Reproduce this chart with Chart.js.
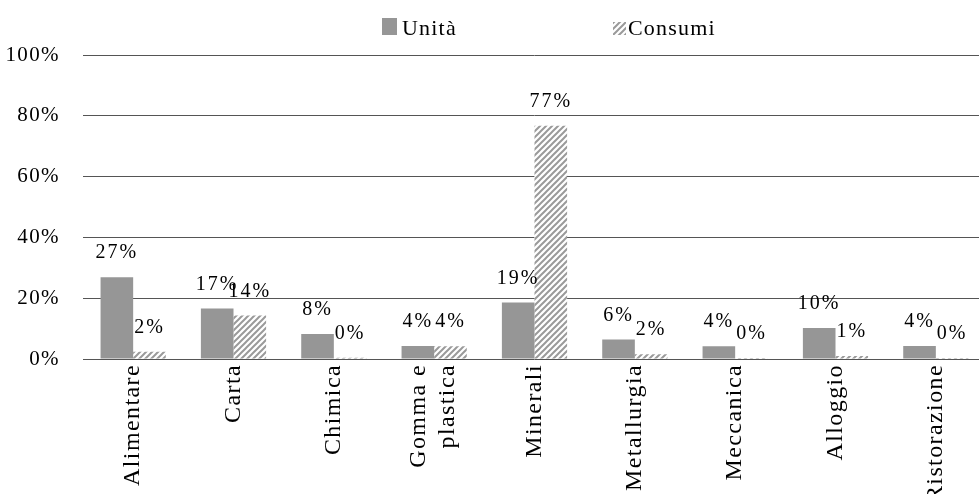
<!DOCTYPE html>
<html>
<head>
<meta charset="utf-8">
<script src="https://cdn.jsdelivr.net/npm/chart.js@4"></script>
<style>
  html, body { margin: 0; padding: 0; background: #fff; overflow: hidden; }
  #chart { display: block; }
</style>
</head>
<body>
<canvas id="chart" width="987" height="494"></canvas>
<script>
// data
const categories = ['Alimentare', 'Carta', 'Chimica', ['Gomma e', 'plastica'], 'Minerali',
  'Metallurgia', 'Meccanica', 'Alloggio', 'Ristorazione'];
const unita = [26.9, 16.6, 8.2, 4.3, 18.6, 6.4, 4.2, 10.2, 4.3];
const consumi = [2.4, 14.3, 0.4, 4.2, 76.7, 1.6, 0.3, 1.0, 0.3];
const yTicks = [0, 20, 40, 60, 80, 100];

const FONT = '"Liberation Serif", "Times New Roman", serif';
const solidGray = '#969696';

function makeHatch() {
  const s = 6;
  const c = document.createElement('canvas');
  c.width = s; c.height = s;
  const g = c.getContext('2d');
  g.fillStyle = '#fff';
  g.fillRect(0, 0, s, s);
  g.strokeStyle = '#9a9a9a';
  g.lineWidth = 2;
  g.beginPath();
  g.moveTo(0, s); g.lineTo(s, 0);
  g.moveTo(-1, 1); g.lineTo(1, -1);
  g.moveTo(s - 1, s + 1); g.lineTo(s + 1, s - 1);
  g.stroke();
  return g.createPattern(c, 'repeat');
}
const hatch = makeHatch();

// letter spacing for chart text, and centre the two-line label on its tick
const spacing = {
  id: 'spacing',
  beforeDraw(chart) {
    chart.ctx.letterSpacing = '1.4px';
    chart.scales.x.getLabelItems().forEach(it => {
      if (Array.isArray(it.label) && !it._moved) {
        it.options.translation[0] -= 15;
        it._moved = true;
      }
    });
  },
  afterDraw(chart) { chart.ctx.letterSpacing = '0px'; }
};

// value labels above each bar
const valueLabels = {
  id: 'valueLabels',
  afterDatasetsDraw(chart) {
    const ctx = chart.ctx;
    ctx.save();
    ctx.letterSpacing = '2px';
    ctx.font = '20px ' + FONT;
    ctx.fillStyle = '#000';
    ctx.textAlign = 'center';
    ctx.textBaseline = 'bottom';
    chart.data.datasets.forEach((ds, i) => {
      chart.getDatasetMeta(i).data.forEach((el, j) => {
        ctx.fillText(Math.round(ds.data[j]) + '%', el.x, el.y - 14);
      });
    });
    ctx.restore();
  }
};

// legend at the top
const topLegend = {
  id: 'topLegend',
  afterDraw(chart) {
    const ctx = chart.ctx;
    ctx.save();
    ctx.letterSpacing = '1.2px';
    ctx.font = '22px ' + FONT;
    ctx.textBaseline = 'alphabetic';
    ctx.fillStyle = solidGray;
    ctx.fillRect(382, 18, 15, 17);
    ctx.fillStyle = '#000';
    ctx.fillText('Unità', 402, 35);
    ctx.fillStyle = hatch;
    ctx.fillRect(613, 22, 13, 13);
    ctx.fillStyle = '#000';
    ctx.fillText('Consumi', 628, 35);
    ctx.restore();
  }
};

function draw() {
  new Chart(document.getElementById('chart'), {
    type: 'bar',
    data: {
      labels: categories,
      datasets: [
        { label: 'Unità', data: unita, backgroundColor: solidGray, borderWidth: 0,
          categoryPercentage: 0.65, barPercentage: 1.0 },
        { label: 'Consumi', data: consumi, backgroundColor: hatch, borderWidth: 0,
          categoryPercentage: 0.65, barPercentage: 1.0 }
      ]
    },
    options: {
      responsive: false,
      animation: false,
      devicePixelRatio: 1,
      layout: { padding: { top: 55, right: 1, left: 0, bottom: 0 } },
      plugins: {
        legend: { display: false },
        tooltip: { enabled: false }
      },
      scales: {
        x: {
          grid: { display: false },
          border: { display: false },
          ticks: {
            color: '#000',
            font: { family: FONT, size: 24 },
            minRotation: 90,
            maxRotation: 90,
            autoSkip: false,
            padding: -3
          },
          afterFit(s) { s.height = 135; }
        },
        y: {
          min: 0,
          max: 100,
          afterBuildTicks(s) { s.ticks = yTicks.map(v => ({ value: v })); },
          grid: { color: '#555', lineWidth: 1, drawTicks: false },
          border: { display: false },
          ticks: {
            color: '#000',
            font: { family: FONT, size: 21 },
            padding: 23,
            callback: v => v + '%'
          },
          afterFit(s) { s.width = 83; }
        }
      }
    },
    plugins: [spacing, valueLabels, topLegend]
  });
}

Promise.all([
  document.fonts.load('20px "Liberation Serif"'),
  document.fonts.load('20px "Liberation Serif"', 'Unità')
]).then(draw, draw);
</script>
</body>
</html>
